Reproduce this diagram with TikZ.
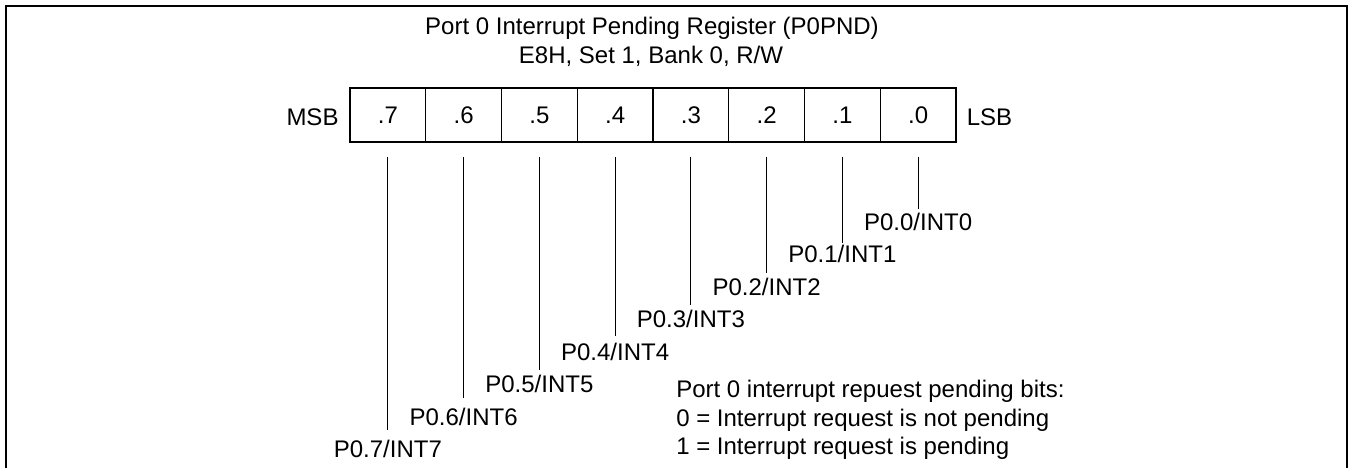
\documentclass[tikz,border=0pt]{standalone}
\usepackage{fontspec}
\setmainfont{Liberation Sans}
\begin{document}
\begin{tikzpicture}[x=0.75pt,y=-0.75pt,
  txt/.style={anchor=base,inner sep=0pt,font=\fontsize{18}{21.6}\selectfont},
  cell/.style={draw,line width=0.9pt,minimum width=56.81pt,minimum height=40.5pt,inner sep=0pt,
    text height=12.9pt,text depth=0pt,font=\fontsize{18}{21.6}\selectfont},
  bitline/.style={line width=0.8pt},
  frame/.style={line width=1.5pt}]
\useasboundingbox (0,0) rectangle (1348,468);
% frame
\draw[frame] (6,468) -- (6,6) -- (1347,6) -- (1347,468);
% title
\node[txt] (t1) at (652,34) {Port 0 Interrupt Pending Register (P0PND)};
\node[txt] (t2) at (651,63) {E8H, Set 1, Bank 0, R/W};
% register cells
\node[cell] (b7) at (387.875,115) {.7};
\node[cell] (b6) at (463.625,115) {.6};
\node[cell] (b5) at (539.375,115) {.5};
\node[cell] (b4) at (615.125,115) {.4};
\node[cell] (b3) at (690.875,115) {.3};
\node[cell] (b2) at (766.625,115) {.2};
\node[cell] (b1) at (842.375,115) {.1};
\node[cell] (b0) at (918.125,115) {.0};
\node[txt] (msb) at (312.5,125) {MSB};
\node[txt] (lsb) at (989.5,125) {LSB};
% labels
\node[txt] (l0) at (918.125,230) {P0.0/INT0};
\node[txt] (l1) at (842.375,262) {P0.1/INT1};
\node[txt] (l2) at (766.625,295) {P0.2/INT2};
\node[txt] (l3) at (690.875,327) {P0.3/INT3};
\node[txt] (l4) at (615.125,360) {P0.4/INT4};
\node[txt] (l5) at (539.375,392) {P0.5/INT5};
\node[txt] (l6) at (463.625,425) {P0.6/INT6};
\node[txt] (l7) at (387.875,457) {P0.7/INT7};
% line end points
\coordinate (e0) at (918.125,209);
\coordinate (e1) at (842.375,243);
\coordinate (e2) at (766.625,273);
\coordinate (e3) at (690.875,305);
\coordinate (e4) at (615.125,336);
\coordinate (e5) at (539.375,370);
\coordinate (e6) at (463.625,398);
\coordinate (e7) at (387.875,430);
\foreach \i in {0,...,7}{
  \draw[bitline] ([yshift=-10.5pt]b\i.south) -- (e\i);
}
% legend
\node[txt,anchor=base west] (g1) at (676,397) {Port 0 interrupt repuest pending bits:};
\node[txt,anchor=base west] (g2) at (676,426) {0 = Interrupt request is not pending};
\node[txt,anchor=base west] (g3) at (676,454) {1 = Interrupt request is pending};
\end{tikzpicture}
\end{document}
